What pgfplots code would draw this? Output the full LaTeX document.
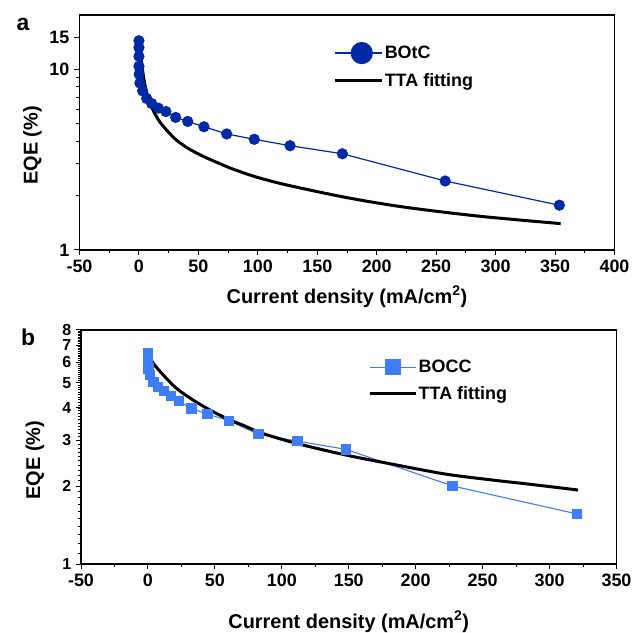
\documentclass[border=0pt]{standalone}
\usepackage{fontspec}
\setmainfont{Liberation Sans}
\usepackage{pgfplots}
\pgfplotsset{compat=1.18}
\definecolor{dblue}{RGB}{0,42,165}
\definecolor{lblue}{RGB}{62,125,245}
\pgfplotsset{
  common/.style={
    scale only axis,
    tick align=outside, xtick pos=bottom, ytick pos=left,
    major tick length=5bp, minor tick length=3bp,
    axis line style={line width=1.2bp},
    every tick/.style={black, line width=1bp},
    tick label style={font=\fontsize{18}{18}\selectfont\bfseries},
    xticklabel style={inner sep=1bp, yshift=-4bp},
    yticklabel style={inner sep=1bp, xshift=-4bp},
    label style={font=\fontsize{20}{20}\selectfont\bfseries},
    xlabel={Current density (mA/cm\textsuperscript{2})},
    ylabel={EQE (\%)},
    legend cell align=left,
  }
}
\begin{document}
\begin{tikzpicture}
\useasboundingbox (0,0) rectangle (633bp,633bp);
% ---------------- panel a
\begin{axis}[common,
  at={(79.5bp,383bp)}, anchor=south west,
  width=535bp, height=235bp,
  xmin=-50, xmax=400, ymode=log, ymin=1, ymax=20,
  xtick={-50,0,50,100,150,200,250,300,350,400}, minor x tick num=1,
  xticklabels={-50,0,50,100,150,200,250,300,350,400},
  ytick={1,10,15}, yticklabels={1,10,15},
  minor ytick={2,3,4,5,6,7,8,9},
  xlabel style={at={(axis description cs:0.5,-0.199)}, anchor=center},
  ylabel style={at={(axis description cs:-0.088,0.445)}, anchor=center},
  legend style={at={(axis description cs:0.474,0.875)}, anchor=north west,
    draw=none, fill=none, inner sep=0pt, row sep=10bp,
    font=\fontsize{18}{18}\selectfont\bfseries, nodes={inner sep=1.5bp}},
]
\addplot[dblue, line width=1.2bp, mark=*, mark size=5bp, mark options={draw=dblue, fill=dblue},
  legend image code/.code={\draw[dblue,line width=1.2bp] (0bp,0bp) -- (47bp,0bp);
    \fill[dblue, overlay] (27bp,0bp) circle (10.5bp);}]
coordinates {(0,14.4)(0,13.2)(0,11.8)(0,10.4)(0.2,9.4)(0.8,8.4)(3.1,7.6)(6.5,6.9)(10.7,6.47)(16.3,6.1)(22.7,5.84)(30.9,5.42)(41,5.15)(54.7,4.81)(73.8,4.39)(97,4.1)(127.1,3.78)(171.1,3.41)(257.6,2.41)(353.6,1.77)};
\addlegendentry{BOtC}
\addplot[black, line width=3bp, smooth,
  legend image code/.code={\draw[black,line width=3bp] (0bp,0bp) -- (47bp,0bp);}]
coordinates {(0.2,14.2)(1,12.6)(2.2,11.0)(3.6,9.3)(5.9,7.7)(8.7,6.7)(12.1,5.9)(17.7,5.1)(26.1,4.4)(31.7,4.05)(41.5,3.65)(54,3.3)(66.8,3.03)(79.4,2.8)(100,2.52)(125.7,2.28)(174.8,1.95)(222.5,1.73)(285.6,1.54)(354.7,1.40)};
\addlegendentry{TTA fitting}
\end{axis}
\node[font=\fontsize{23}{23}\selectfont\bfseries] at (23bp,609bp) {a};
% ---------------- panel b
\begin{axis}[common,
  at={(81bp,69bp)}, anchor=south west,
  width=535.5bp, height=234bp,
  xmin=-50, xmax=350, ymode=log, ymin=1, ymax=8,
  xtick={-50,0,50,100,150,200,250,300,350}, minor x tick num=1,
  xticklabels={-50,0,50,100,150,200,250,300,350},
  ytick={1,2,3,4,5,6,7,8}, yticklabels={1,2,3,4,5,6,7,8},
  minor ytick={1.1,1.2,...,7.95},
  yticklabel style={font=\fontsize{16}{16}\selectfont\bfseries, inner sep=0.5bp},
  xlabel style={at={(axis description cs:0.5,-0.247)}, anchor=center},
  ylabel style={at={(axis description cs:-0.086,0.444)}, anchor=center},
  legend style={at={(axis description cs:0.536,0.878)}, anchor=north west,
    draw=none, fill=none, inner sep=0pt, row sep=9bp,
    font=\fontsize{18}{18}\selectfont\bfseries, nodes={inner sep=1.5bp}},
]
\addplot[lblue, line width=1.1bp, mark=square*, mark size=4.7bp, mark options={draw=lblue, fill=lblue},
  legend image code/.code={\draw[lblue,line width=1.1bp] (0bp,0bp) -- (46bp,0bp);
    \fill[lblue, overlay] (15.5bp,-7.5bp) rectangle (30.5bp,7.5bp);}]
coordinates {(0,6.5)(0,6.12)(0.3,5.69)(1.5,5.36)(4,5.05)(7.7,4.83)(12,4.66)(17.2,4.45)(23.2,4.25)(32.6,3.98)(44.6,3.79)(60.6,3.57)(82.4,3.17)(111.8,2.98)(147.9,2.77)(227.6,2.0)(320.6,1.56)};
\addlegendentry{BOCC}
\addplot[black, line width=3bp, smooth,
  legend image code/.code={\draw[black,line width=3bp] (0bp,0bp) -- (46bp,0bp);}]
coordinates {(0.5,6.45)(4,5.95)(11.5,5.36)(21.4,4.76)(33.8,4.29)(46.3,3.93)(60,3.62)(71.2,3.43)(85,3.2)(111,2.92)(148.4,2.63)(185.8,2.41)(223.1,2.22)(260.4,2.10)(285.8,2.03)(321.2,1.93)};
\addlegendentry{TTA fitting}
\end{axis}
\node[font=\fontsize{23}{23}\selectfont\bfseries] at (28bp,296bp) {b};
\end{tikzpicture}
\end{document}
